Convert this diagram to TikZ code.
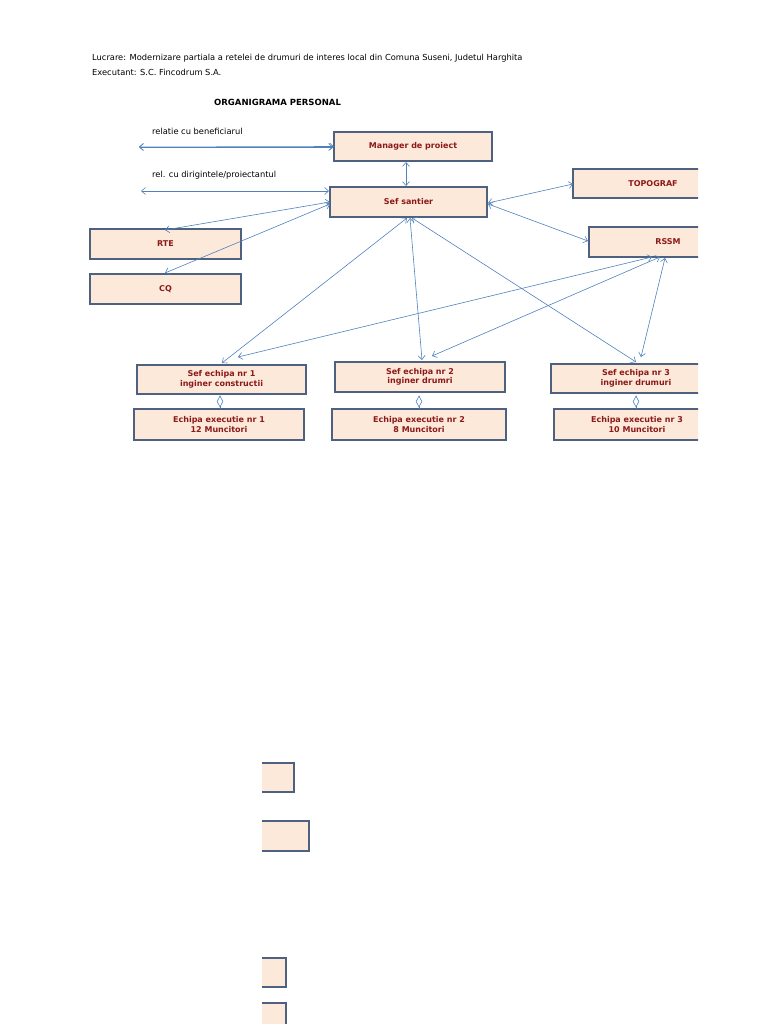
\documentclass[tikz,border=0pt]{standalone}
\usepackage{fontspec}
\setmainfont{DejaVu Sans}
\usetikzlibrary{arrows.meta,shapes.geometric}
\definecolor{bfill}{HTML}{FDE9D9}
\definecolor{bdraw}{HTML}{4F6180}
\definecolor{btext}{HTML}{8B1A1A}
\definecolor{arr}{HTML}{4F81BD}
\begin{document}
\begin{tikzpicture}[x=1pt,y=-1pt,
  box/.style={draw=bdraw,line width=1.3pt,fill=bfill},
  lbl/.style={text=btext,font=\fontsize{8}{9.5}\selectfont\bfseries,align=center},
  txt/.style={anchor=west,font=\fontsize{8.3}{10}\selectfont,inner sep=0},
  con/.style={draw=arr,line width=0.6pt,{Straight Barb[length=4pt,width=7pt]}-{Straight Barb[length=4pt,width=7pt]}},
  dia/.style={draw=arr,fill=white,diamond,line width=0.6pt,minimum width=6pt,minimum height=11pt,inner sep=0}]
\useasboundingbox (0,0) rectangle (768,1024);
\node[txt] (h1) at (92,58) {Lucrare: Modernizare partiala a retelei de drumuri de interes local din Comuna Suseni, Judetul Harghita};
\node[txt] (h2) at (92,72) {Executant: S.C. Fincodrum S.A.};
\node[txt,font=\fontsize{8.5}{10}\selectfont\bfseries] (h3) at (214,102) {ORGANIGRAMA PERSONAL};
\node[txt] (l1) at (152,131) {relatie cu beneficiarul};
\node[txt] (l2) at (152,175) {rel. cu dirigintele/proiectantul};
\coordinate (f1) at (139,147);
\coordinate (f2) at (141,191);
% boxes
\draw[box] (334,132) rectangle (492,161); \node[lbl] (mp) at (413,146.5) {Manager de proiect};
\draw[box] (330,187) rectangle (487,217); \node[lbl] (ss) at (408.5,202) {Sef santier};
\draw[box] (90,229) rectangle (241,259); \node[lbl] (rte) at (165.5,244) {RTE};
\draw[box] (90,274) rectangle (241,304); \node[lbl] (cq) at (165.5,289) {CQ};
\begin{scope}
\clip (0,0) rectangle (698,1024);
\draw[box] (573,169) rectangle (710,198); \node[lbl] (topo) at (653,183.5) {TOPOGRAF};
\draw[box] (589,227) rectangle (710,257); \node[lbl] (rssm) at (668,242) {RSSM};
\draw[box] (551,364) rectangle (720,393); \node[lbl] (s3) at (636,378.5) {Sef echipa nr 3\\inginer drumuri};
\draw[box] (554,409) rectangle (720,440); \node[lbl] (e3) at (637,424.5) {Echipa executie nr 3\\10 Muncitori};
\end{scope}
\draw[box] (137,365) rectangle (306,394); \node[lbl] (s1) at (221.5,379.5) {Sef echipa nr 1\\inginer constructii};
\draw[box] (335,362) rectangle (505,392); \node[lbl] (s2) at (420,377) {Sef echipa nr 2\\inginer drumri};
\draw[box] (134,409) rectangle (304,440); \node[lbl] (e1) at (219,424.5) {Echipa executie nr 1\\12 Muncitori};
\draw[box] (332,409) rectangle (506,440); \node[lbl] (e2) at (419,424.5) {Echipa executie nr 2\\8 Muncitori};
% bottom fragments
\draw[box] (294,763) -- (262,763) (262,792) -- (294,792) -- (294,763);
\fill[bfill] (262,763.6) rectangle (293.4,791.4);
\draw[box] (262,763) -- (294,763) -- (294,792) -- (262,792);
\fill[bfill] (262,821.6) rectangle (308.4,850.4);
\draw[box] (262,821) -- (309,821) -- (309,851) -- (262,851);
\fill[bfill] (262,958.6) rectangle (285.4,986.4);
\draw[box] (262,958) -- (286,958) -- (286,987) -- (262,987);
\fill[bfill] (262,1003.6) rectangle (285.4,1024);
\draw[box] (262,1003) -- (286,1003) -- (286,1024);
% connectors
\draw[con] (f1) -- (mp.west -| 334,0);
\draw[con] (f1) -- (333,147);
\draw[con] (f2) -- (329,191);
\draw[con] (406,162) -- (406,186);
\draw[con] (330,202) -- (165,230);
\draw[con] (330,204) -- (165,273);
\draw[con] (488,203) -- (573,184);
\draw[con] (488,204) -- (588,241);
\draw[con] (407,218) -- (222,363);
\draw[con] (410,218) -- (422,360);
\draw[con] (412,218) -- (636,362);
\draw[con] (652,257) -- (238,357);
\draw[con] (660,257) -- (432,356);
\draw[con] (665,258) -- (641,357);
% diamonds
\foreach \x/\s/\e in {220/s1/e1,419/s2/e2,636/s3/e3}{
  \draw[arr,line width=0.6pt] (\x,396) -- (\x,409);
  \node[dia] at (\x,401.5) {};
}
\end{tikzpicture}
\end{document}
